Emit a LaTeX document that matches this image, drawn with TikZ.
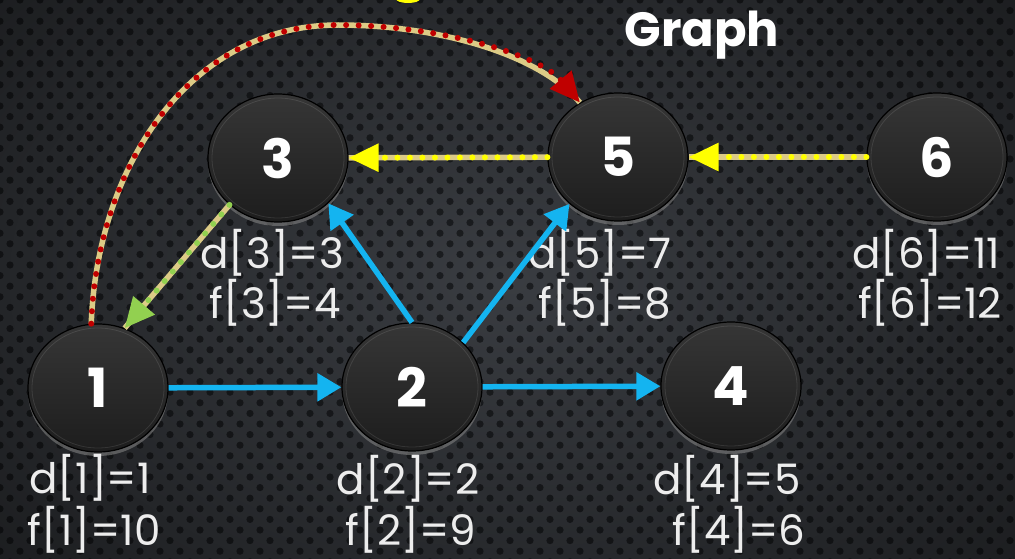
\documentclass[tikz,border=0pt]{standalone}
\usepackage{fontspec}
\setmainfont{Poppins}
\usetikzlibrary{arrows.meta,shapes.geometric,shadows,fadings}
\definecolor{bgmesh}{HTML}{3A3D42}
\definecolor{bghole}{HTML}{1C1E21}
\definecolor{eblue}{HTML}{14B4F0}
\definecolor{khaki}{HTML}{DCCB86}
\definecolor{dred}{HTML}{C00000}
\definecolor{dyel}{HTML}{FFFF00}
\definecolor{dgreen}{HTML}{92D050}
\definecolor{lbl}{HTML}{EDEDED}
\definecolor{ntop}{HTML}{363636}
\definecolor{nbot}{HTML}{1D1D1D}
\tikzfading[name=vignette, inner color=transparent!100, outer color=transparent!0]
\begin{document}
\begin{tikzpicture}[x=1pt,y=-1pt,
  vert/.style={ellipse, minimum width=140pt, minimum height=128pt, inner sep=0pt,
    draw=black, line width=1.2pt, top color=ntop, bottom color=nbot, text=white,
    font=\fontsize{54}{54}\selectfont\bfseries,
    drop shadow={opacity=0.6, shadow xshift=0pt, shadow yshift=-4pt}},
  lab/.style={text=lbl, font=\fontsize{42}{44}\selectfont, inner sep=0pt, anchor=base},
  blueedge/.style={draw=eblue, line width=5.5pt, -{Triangle[length=24pt,width=27pt]}},
  dotedge/.style={draw=#1, line width=6pt, line cap=round, dash pattern=on 0pt off 12.5pt,
    -{Triangle[length=30pt,width=27pt,fill=#1,line cap=butt]},
    preaction={draw=khaki, line width=5.5pt, line cap=butt, solid, -}},
]
\useasboundingbox (0,0) rectangle (1015,559);
% background
\begin{scope}
\clip (0,0) rectangle (1015,559);
\fill[bgmesh] (0,0) rectangle (1015,559);
\foreach \j in {0,...,53}{
  \pgfmathsetmacro{\off}{mod(\j,2)*10}
  \foreach \i in {0,...,51}{
    \fill[bghole] (\i*20+\off, \j*10.6) circle (3.6);
  }
}
\fill[black, fill opacity=0.5, path fading=vignette, fit fading=true] (-150,-150) rectangle (1165,709);
\fill[dyel] (408,-1) ellipse (12 and 4);
\end{scope}
% title
\node[text=white, font=\fontsize{48}{48}\selectfont\bfseries, inner sep=0pt, anchor=base] (title) at (702,47) {Graph};
% nodes
\node[vert] (n1) at (98,388) {1};
\node[vert] (n2) at (412,387) {2};
\node[vert] (n3) at (278,158) {3};
\node[vert] (n4) at (731,386) {4};
\node[vert] (n5) at (618,157) {5};
\node[vert] (n6) at (937,157) {6};
\foreach \n in {n1,n2,n3,n4,n5,n6}{
  \draw[white, draw opacity=0.10, line width=0.8pt] (\n.center) ellipse (66 and 60);
}
% labels
\node[lab] (d1) at (90,493) {d[1]=1};
\node[lab] (f1) at (94,545) {f[1]=10};
\node[lab] (d2) at (408,494) {d[2]=2};
\node[lab] (f2) at (411,545) {f[2]=9};
\node[lab] (d3) at (272,268) {d[3]=3};
\node[lab] (f3) at (275,318) {f[3]=4};
\node[lab] (d4) at (727,494) {d[4]=5};
\node[lab] (f4) at (739,545) {f[4]=6};
\node[lab] (d5) at (600,268) {d[5]=7};
\node[lab] (f5) at (605,318) {f[5]=8};
\node[lab] (d6) at (926,268) {d[6]=11};
\node[lab] (f6) at (930,318) {f[6]=12};
% edges
\draw[blueedge] (n1) -- (n2);
\draw[blueedge] (n2) -- (n4);
\draw[blueedge] (n2.north) -- (n3.-42);
\draw[blueedge] (n2.41) -- (n5.224);
\draw[dotedge=dyel] (n5) -- (n3);
\draw[dotedge=dyel] (n6) -- (n5);
\draw[dotedge=dgreen] (n3.224) -- (n1.66);
\draw[dotedge=dred] (n1.96) .. controls (97,168) and (188,25) .. (338,25) .. controls (440,25) and (540,55) .. (n5.125);
\end{tikzpicture}
\end{document}
